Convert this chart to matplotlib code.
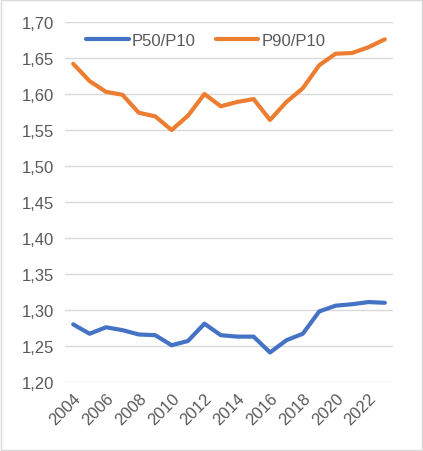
import matplotlib.pyplot as plt
from matplotlib.patches import Rectangle
from matplotlib.ticker import FuncFormatter

years = list(range(2004, 2024))
p50_p10 = [1.280, 1.267, 1.276, 1.272, 1.266, 1.265, 1.251, 1.257, 1.281, 1.265,
           1.263, 1.263, 1.241, 1.258, 1.267, 1.298, 1.306, 1.308, 1.311, 1.310]
p90_p10 = [1.642, 1.618, 1.603, 1.599, 1.574, 1.569, 1.550, 1.570, 1.600, 1.583,
           1.589, 1.593, 1.564, 1.589, 1.608, 1.640, 1.656, 1.657, 1.665, 1.676]
yticks = [1.20, 1.25, 1.30, 1.35, 1.40, 1.45, 1.50, 1.55, 1.60, 1.65, 1.70]

plt.rcParams['font.family'] = ['Liberation Sans', 'DejaVu Sans']
text_col = '#595959'

fig = plt.figure(figsize=(4.23, 4.52), dpi=100)
ax = fig.add_axes([0.1537, 0.1527, 0.7754, 0.7963])

ax.plot(years, p50_p10, color='#4472C4', lw=3, solid_capstyle='round',
        solid_joinstyle='round', label='P50/P10')
ax.plot(years, p90_p10, color='#ED7D31', lw=3, solid_capstyle='round',
        solid_joinstyle='round', label='P90/P10')

ax.set_ylim(1.20, 1.70)
ax.set_yticks(yticks)
ax.yaxis.set_major_formatter(FuncFormatter(lambda v, p: f"{v:.2f}".replace('.', ',')))
ax.set_xlim(years[0] - 0.5, years[-1] + 0.5)
ax.set_xticks(years[::2])
ax.set_xticklabels([str(y) for y in years[::2]], rotation=45, ha='right',
                   va='top', rotation_mode='anchor')
ax.grid(axis='y', color='#D9D9D9', lw=1)
ax.set_axisbelow(True)
for s in ax.spines.values():
    s.set_visible(False)
ax.tick_params(length=0, labelsize=12, labelcolor=text_col)
ax.tick_params(axis='y', pad=8)
ax.tick_params(axis='x', pad=6)

fig.legend(loc='center', bbox_to_anchor=(0.487, 0.909), ncol=2, frameon=False,
           fontsize=12, labelcolor=text_col, handlelength=2.55, handletextpad=0.2,
           columnspacing=1.2)

fig.patches.append(Rectangle((0.002, 0.002), 0.996, 0.996, transform=fig.transFigure,
                             fill=False, edgecolor='#D9D9D9', lw=1))

fig.savefig('out.png', dpi=100)
